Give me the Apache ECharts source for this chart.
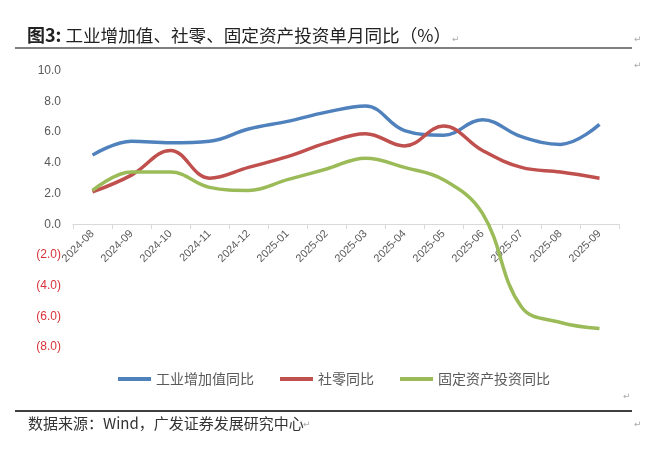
<!DOCTYPE html>
<html>
<head>
<meta charset="utf-8">
<script src="https://cdn.jsdelivr.net/npm/echarts@6/dist/echarts.min.js"></script>
<style>
html,body{margin:0;padding:0;background:#fff;}
#c{width:665px;height:456px;}
</style>
</head>
<body>
<div id="c"></div>
<script>
const categories = ['2024-08','2024-09','2024-10','2024-11','2024-12','2025-01','2025-02','2025-03','2025-04','2025-05','2025-06','2025-07','2025-08','2025-09'];
const industrial = [4.5,5.4,5.3,5.4,6.2,6.7,7.3,7.7,6.1,5.8,6.8,5.7,5.2,6.5];
const retail = [2.1,3.2,4.8,3.0,3.7,4.4,5.3,5.9,5.1,6.4,4.8,3.7,3.4,3.0];
const fai = [2.2,3.4,3.4,2.4,2.2,2.9,3.6,4.3,3.7,2.9,0.7,-5.4,-6.4,-6.8];
const seriesNames = ['工业增加值同比','社零同比','固定资产投资同比'];
const titleMain = '图3:';
const titleRest = ' 工业增加值、社零、固定资产投资单月同比（%）';
const sourceText = '数据来源：Wind，广发证券发展研究中心';

const colors = ['#4F81BD','#C0504D','#9BBB59'];
const chart = echarts.init(document.getElementById('c'));
const mark = (x,y)=>({type:'text',left:x,top:y,style:{text:'↵',fill:'#aaaaaa',font:'9px "DejaVu Sans"'}});
const G = {left:73,right:46,top:70.7};
chart.setOption({
  backgroundColor:'#ffffff',
  animation:false,
  grid:[
    {left:G.left,right:G.right,top:G.top,bottom:109},
    {left:G.left,right:G.right,top:G.top,bottom:232}
  ],
  legend:{
    left:113, top:367,
    icon:'rect', itemWidth:33, itemHeight:4, itemGap:26,
    textStyle:{color:'#595959',fontSize:14,fontFamily:'"Noto Sans CJK SC"'},
    data:seriesNames
  },
  xAxis:[
    {gridIndex:0,type:'category',data:categories,boundaryGap:true,show:false},
    {gridIndex:1,type:'category',data:categories,boundaryGap:true,position:'bottom',
     axisLine:{onZero:false,lineStyle:{color:'#d9d9d9',width:1}},
     axisTick:{show:true,length:5,lineStyle:{color:'#d9d9d9'}},
     axisLabel:{rotate:45,color:'#595959',fontSize:11,fontFamily:'"Liberation Sans"',margin:8,interval:0}}
  ],
  yAxis:[
    {gridIndex:0,type:'value',min:-8,max:10,interval:2,
     axisLine:{show:false},axisTick:{show:false},splitLine:{show:false},
     axisLabel:{
       margin:12,fontSize:12,fontFamily:'"Liberation Sans"',
       formatter:v=> v<0 ? '('+(-v).toFixed(1)+')' : v.toFixed(1),
       color:v=> (+v<0 ? '#d8323a' : '#595959')
     }},
    {gridIndex:1,type:'value',min:0,max:10,show:false}
  ],
  series:[
    {name:seriesNames[0],type:'line',xAxisIndex:0,yAxisIndex:0,data:industrial,smooth:0.4,symbol:'none',lineStyle:{width:3.5,color:colors[0]},itemStyle:{color:colors[0]}},
    {name:seriesNames[1],type:'line',xAxisIndex:0,yAxisIndex:0,data:retail,smooth:0.4,symbol:'none',lineStyle:{width:3.5,color:colors[1]},itemStyle:{color:colors[1]}},
    {name:seriesNames[2],type:'line',xAxisIndex:0,yAxisIndex:0,data:fai,smooth:0.4,symbol:'none',lineStyle:{width:3.5,color:colors[2]},itemStyle:{color:colors[2]}}
  ],
  graphic:[
    {type:'text',left:27,top:26,style:{
      text:'{b|'+titleMain+'}{r|'+titleRest+'}',
      rich:{
        b:{font:'bold 18px "Noto Sans CJK SC"',fill:'#222222'},
        r:{font:'17.6px "Noto Sans CJK SC"',fill:'#222222'}
      }}},
    {type:'line',shape:{x1:15,y1:48,x2:632,y2:48},style:{stroke:'#7f7f7f',lineWidth:2}},
    {type:'line',shape:{x1:15,y1:411,x2:632,y2:411},style:{stroke:'#000000',lineWidth:1.5}},
    {type:'text',left:28,top:416,style:{text:sourceText,fill:'#333333',font:'15px "Noto Sans CJK SC"'}},
    mark(452,35), mark(634,35), mark(634,61), mark(623,392), mark(634,420), mark(303,420)
  ]
});
</script>
</body>
</html>
